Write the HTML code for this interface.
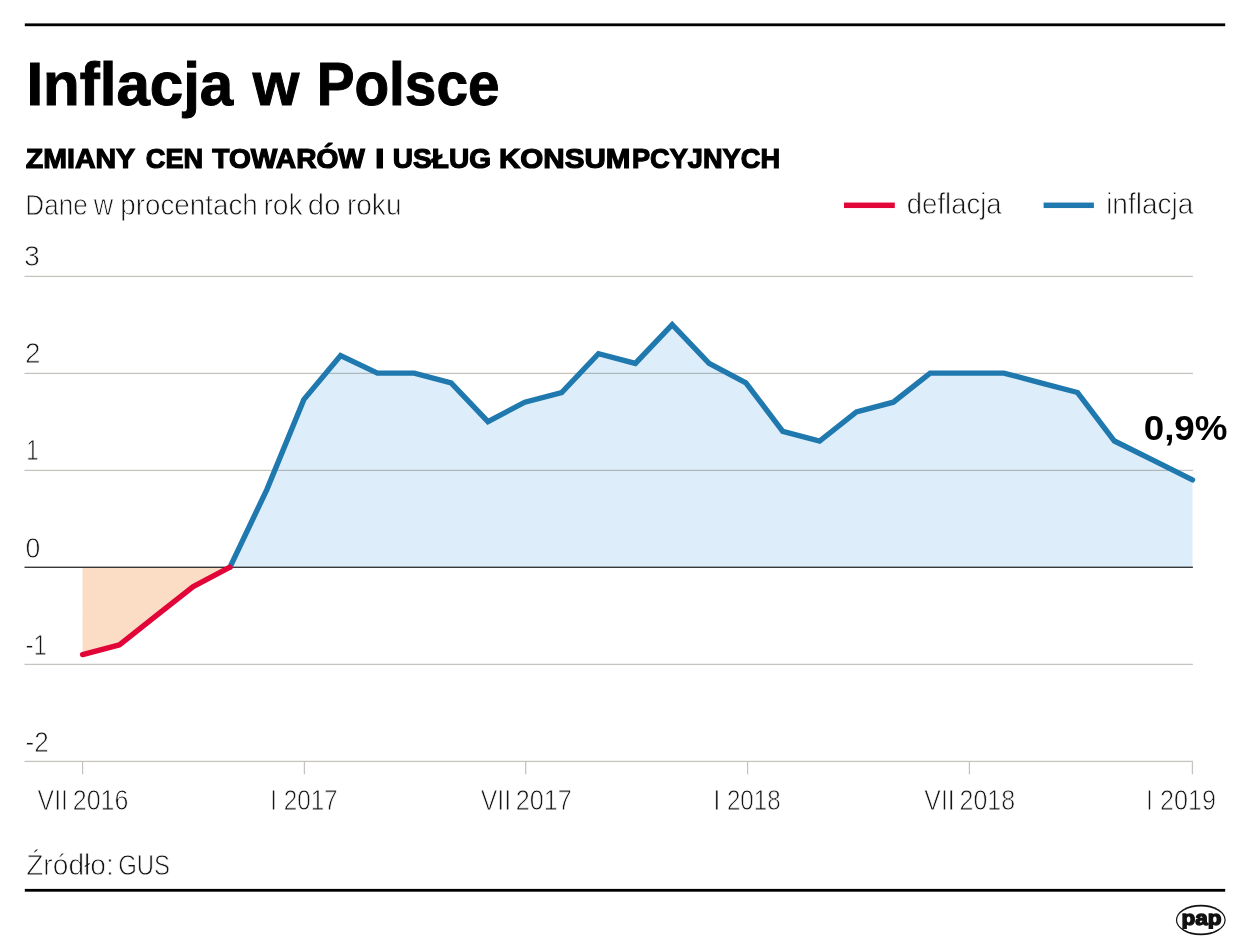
<!DOCTYPE html>
<html lang="pl"><head><meta charset="utf-8"><title>Inflacja w Polsce</title>
<style>
html,body{margin:0;padding:0;background:#fff;}
body{width:1250px;height:950px;overflow:hidden;}
svg{display:block;position:absolute;left:0;top:0;}
text{font-family:"Liberation Sans",sans-serif;}
.b{font-weight:bold;fill:#000;}
.l{fill:#141414;stroke:#fff;stroke-width:0.8;}
</style></head><body>
<svg width="1250" height="950" viewBox="0 0 1250 950">
<rect width="1250" height="950" fill="#fff"/>
<rect x="24.8" y="23.4" width="1200.4" height="2.8" fill="#000"/>
<rect x="24.8" y="888.9" width="1200.4" height="2.8" fill="#000"/>
<rect x="844" y="202.55" width="50.8" height="5.5" fill="#e10538"/>
<rect x="1043.6" y="202.55" width="50.3" height="5.5" fill="#1f78ae"/>
<polygon fill="#ddeefa" points="230.00,567.20 266.85,489.56 303.80,399.60 340.60,355.60 377.40,373.10 414.25,373.10 451.10,382.81 487.95,421.63 524.80,402.22 561.65,392.51 598.50,353.69 635.35,363.40 672.20,324.58 709.05,363.40 745.90,382.81 782.75,431.33 819.60,441.04 856.45,411.92 893.30,402.22 930.15,373.10 967.00,373.10 1003.85,373.10 1040.70,382.81 1077.55,392.51 1114.40,441.04 1153.45,460.45 1192.50,479.86 1192.50,567.20 230.00,567.20"/>
<polygon fill="#fbdcc4" points="82.60,654.55 119.45,644.84 156.30,615.73 193.15,586.61 230.00,567.20 82.60,567.20"/>
<rect x="24.5" y="275.78" width="1168.40" height="1.25" fill="#3a3020" fill-opacity="0.29"/>
<rect x="24.5" y="372.78" width="1168.40" height="1.25" fill="#3a3020" fill-opacity="0.29"/>
<rect x="24.5" y="469.78" width="1168.40" height="1.25" fill="#3a3020" fill-opacity="0.29"/>
<rect x="24.5" y="663.78" width="1168.40" height="1.25" fill="#3a3020" fill-opacity="0.29"/>
<rect x="24.5" y="760.78" width="1168.40" height="1.25" fill="#3a3020" fill-opacity="0.29"/>
<rect x="81.98" y="762.00" width="1.25" height="12.3" fill="#3a3020" fill-opacity="0.29"/>
<rect x="303.78" y="762.00" width="1.25" height="12.3" fill="#3a3020" fill-opacity="0.29"/>
<rect x="525.08" y="762.00" width="1.25" height="12.3" fill="#3a3020" fill-opacity="0.29"/>
<rect x="746.98" y="762.00" width="1.25" height="12.3" fill="#3a3020" fill-opacity="0.29"/>
<rect x="968.78" y="762.00" width="1.25" height="12.3" fill="#3a3020" fill-opacity="0.29"/>
<rect x="1191.78" y="762.00" width="1.25" height="12.3" fill="#3a3020" fill-opacity="0.29"/>
<rect x="24.5" y="566.6" width="1168.40" height="1.4" fill="#383838"/>
<polyline fill="none" stroke="#1f78ae" stroke-width="5.4" stroke-linecap="round" stroke-linejoin="miter" points="230.00,567.20 266.85,489.56 303.80,399.60 340.60,355.60 377.40,373.10 414.25,373.10 451.10,382.81 487.95,421.63 524.80,402.22 561.65,392.51 598.50,353.69 635.35,363.40 672.20,324.58 709.05,363.40 745.90,382.81 782.75,431.33 819.60,441.04 856.45,411.92 893.30,402.22 930.15,373.10 967.00,373.10 1003.85,373.10 1040.70,382.81 1077.55,392.51 1114.40,441.04 1153.45,460.45 1192.50,479.86"/>
<polyline fill="none" stroke="#e10538" stroke-width="5.4" stroke-linecap="round" stroke-linejoin="round" points="82.60,654.55 119.45,644.84 156.30,615.73 193.15,586.61 230.00,567.20"/>
<text class="b" y="104.90" font-size="60.8" stroke="#000" stroke-width="1.0" stroke-linejoin="miter"><tspan x="26.45" textLength="206.80" lengthAdjust="spacingAndGlyphs">Inflacja</tspan> <tspan x="252.73" textLength="46.54" lengthAdjust="spacingAndGlyphs">w</tspan> <tspan x="316.64" textLength="182.91" lengthAdjust="spacingAndGlyphs">Polsce</tspan></text>
<text class="b" y="168.00" font-size="28.3" stroke="#000" stroke-width="1.2" stroke-linejoin="miter"><tspan x="25.75" textLength="108.90" lengthAdjust="spacingAndGlyphs">ZMIANY</tspan> <tspan x="145.83" textLength="57.44" lengthAdjust="spacingAndGlyphs">CEN</tspan> <tspan x="212.25" textLength="152.70" lengthAdjust="spacingAndGlyphs">TOWARÓW</tspan> <tspan x="375.05" textLength="9.61" lengthAdjust="spacingAndGlyphs">I</tspan> <tspan x="392.82" textLength="98.20" lengthAdjust="spacingAndGlyphs">USŁUG</tspan> <tspan x="498.98" textLength="131.56" lengthAdjust="spacingAndGlyphs">KONSUM</tspan><tspan x="631.97" textLength="148.05" lengthAdjust="spacingAndGlyphs">PCYJNYCH</tspan></text>
<text class="l" y="214.60" font-size="30.2"><tspan x="25.33" textLength="62.32" lengthAdjust="spacingAndGlyphs">Dane</tspan> <tspan x="93.83" textLength="19.45" lengthAdjust="spacingAndGlyphs">w</tspan> <tspan x="120.28" textLength="137.47" lengthAdjust="spacingAndGlyphs">procentach</tspan> <tspan x="263.41" textLength="39.37" lengthAdjust="spacingAndGlyphs">rok</tspan> <tspan x="307.87" textLength="32.60" lengthAdjust="spacingAndGlyphs">do</tspan> <tspan x="346.94" textLength="54.55" lengthAdjust="spacingAndGlyphs">roku</tspan></text>
<text class="l" y="214.20" font-size="30.2"><tspan x="906.82" textLength="94.83" lengthAdjust="spacingAndGlyphs">deflacja</tspan></text>
<text class="l" y="214.20" font-size="30.2"><tspan x="1106.13" textLength="87.23" lengthAdjust="spacingAndGlyphs">inflacja</tspan></text>
<text class="l" y="266.35" font-size="30.2"><tspan x="23.95" textLength="15.85" lengthAdjust="spacingAndGlyphs">3</tspan></text>
<text class="l" y="363.40" font-size="30.2"><tspan x="25.10" textLength="15.52" lengthAdjust="spacingAndGlyphs">2</tspan></text>
<text class="l" y="460.45" font-size="30.2"><tspan x="26.20" textLength="12.57" lengthAdjust="spacingAndGlyphs">1</tspan></text>
<text class="l" y="557.50" font-size="30.2"><tspan x="25.52" textLength="14.79" lengthAdjust="spacingAndGlyphs">0</tspan></text>
<text class="l" y="654.55" font-size="30.2"><tspan x="25.59" textLength="21.21" lengthAdjust="spacingAndGlyphs">-1</tspan></text>
<text class="l" y="751.60" font-size="30.2"><tspan x="25.55" textLength="23.19" lengthAdjust="spacingAndGlyphs">-2</tspan></text>
<text class="l" y="809.60" font-size="30.2"><tspan x="37.61" textLength="30.37" lengthAdjust="spacingAndGlyphs">VII</tspan> <tspan x="72.84" textLength="55.56" lengthAdjust="spacingAndGlyphs">2016</tspan></text>
<text class="l" y="809.60" font-size="30.2"><tspan x="270.26" textLength="67.34" lengthAdjust="spacingAndGlyphs">I 2017</tspan></text>
<text class="l" y="809.60" font-size="30.2"><tspan x="480.78" textLength="30.37" lengthAdjust="spacingAndGlyphs">VII</tspan> <tspan x="515.77" textLength="55.86" lengthAdjust="spacingAndGlyphs">2017</tspan></text>
<text class="l" y="809.60" font-size="30.2"><tspan x="713.56" textLength="67.06" lengthAdjust="spacingAndGlyphs">I 2018</tspan></text>
<text class="l" y="809.60" font-size="30.2"><tspan x="924.32" textLength="30.38" lengthAdjust="spacingAndGlyphs">VII</tspan> <tspan x="959.56" textLength="55.58" lengthAdjust="spacingAndGlyphs">2018</tspan></text>
<text class="l" y="809.60" font-size="30.2"><tspan x="1146.03" textLength="69.91" lengthAdjust="spacingAndGlyphs">I 2019</tspan></text>
<text class="b" y="439.80" font-size="35.6" fill="#111"><tspan x="1143.71" textLength="83.72" lengthAdjust="spacingAndGlyphs">0,9%</tspan></text>
<text class="l" y="875.00" font-size="29.3"><tspan x="26.19" textLength="87.54" lengthAdjust="spacingAndGlyphs">Źródło:</tspan> <tspan x="118.14" textLength="51.88" lengthAdjust="spacingAndGlyphs">GUS</tspan></text>
<ellipse cx="1200.8" cy="920" rx="24.9" ry="15.3" fill="#111"/>
<ellipse cx="1200.8" cy="920" rx="23.7" ry="13.5" fill="#fff"/>
<clipPath id="lc"><rect x="1170" y="900" width="62" height="28.9"/></clipPath>
<text clip-path="url(#lc)" x="1181.5" y="925.2" font-size="20.5" font-weight="bold" fill="#111" stroke="#111" stroke-width="1.35" stroke-linejoin="round" textLength="40" lengthAdjust="spacingAndGlyphs">pap</text>
</svg></body></html>
